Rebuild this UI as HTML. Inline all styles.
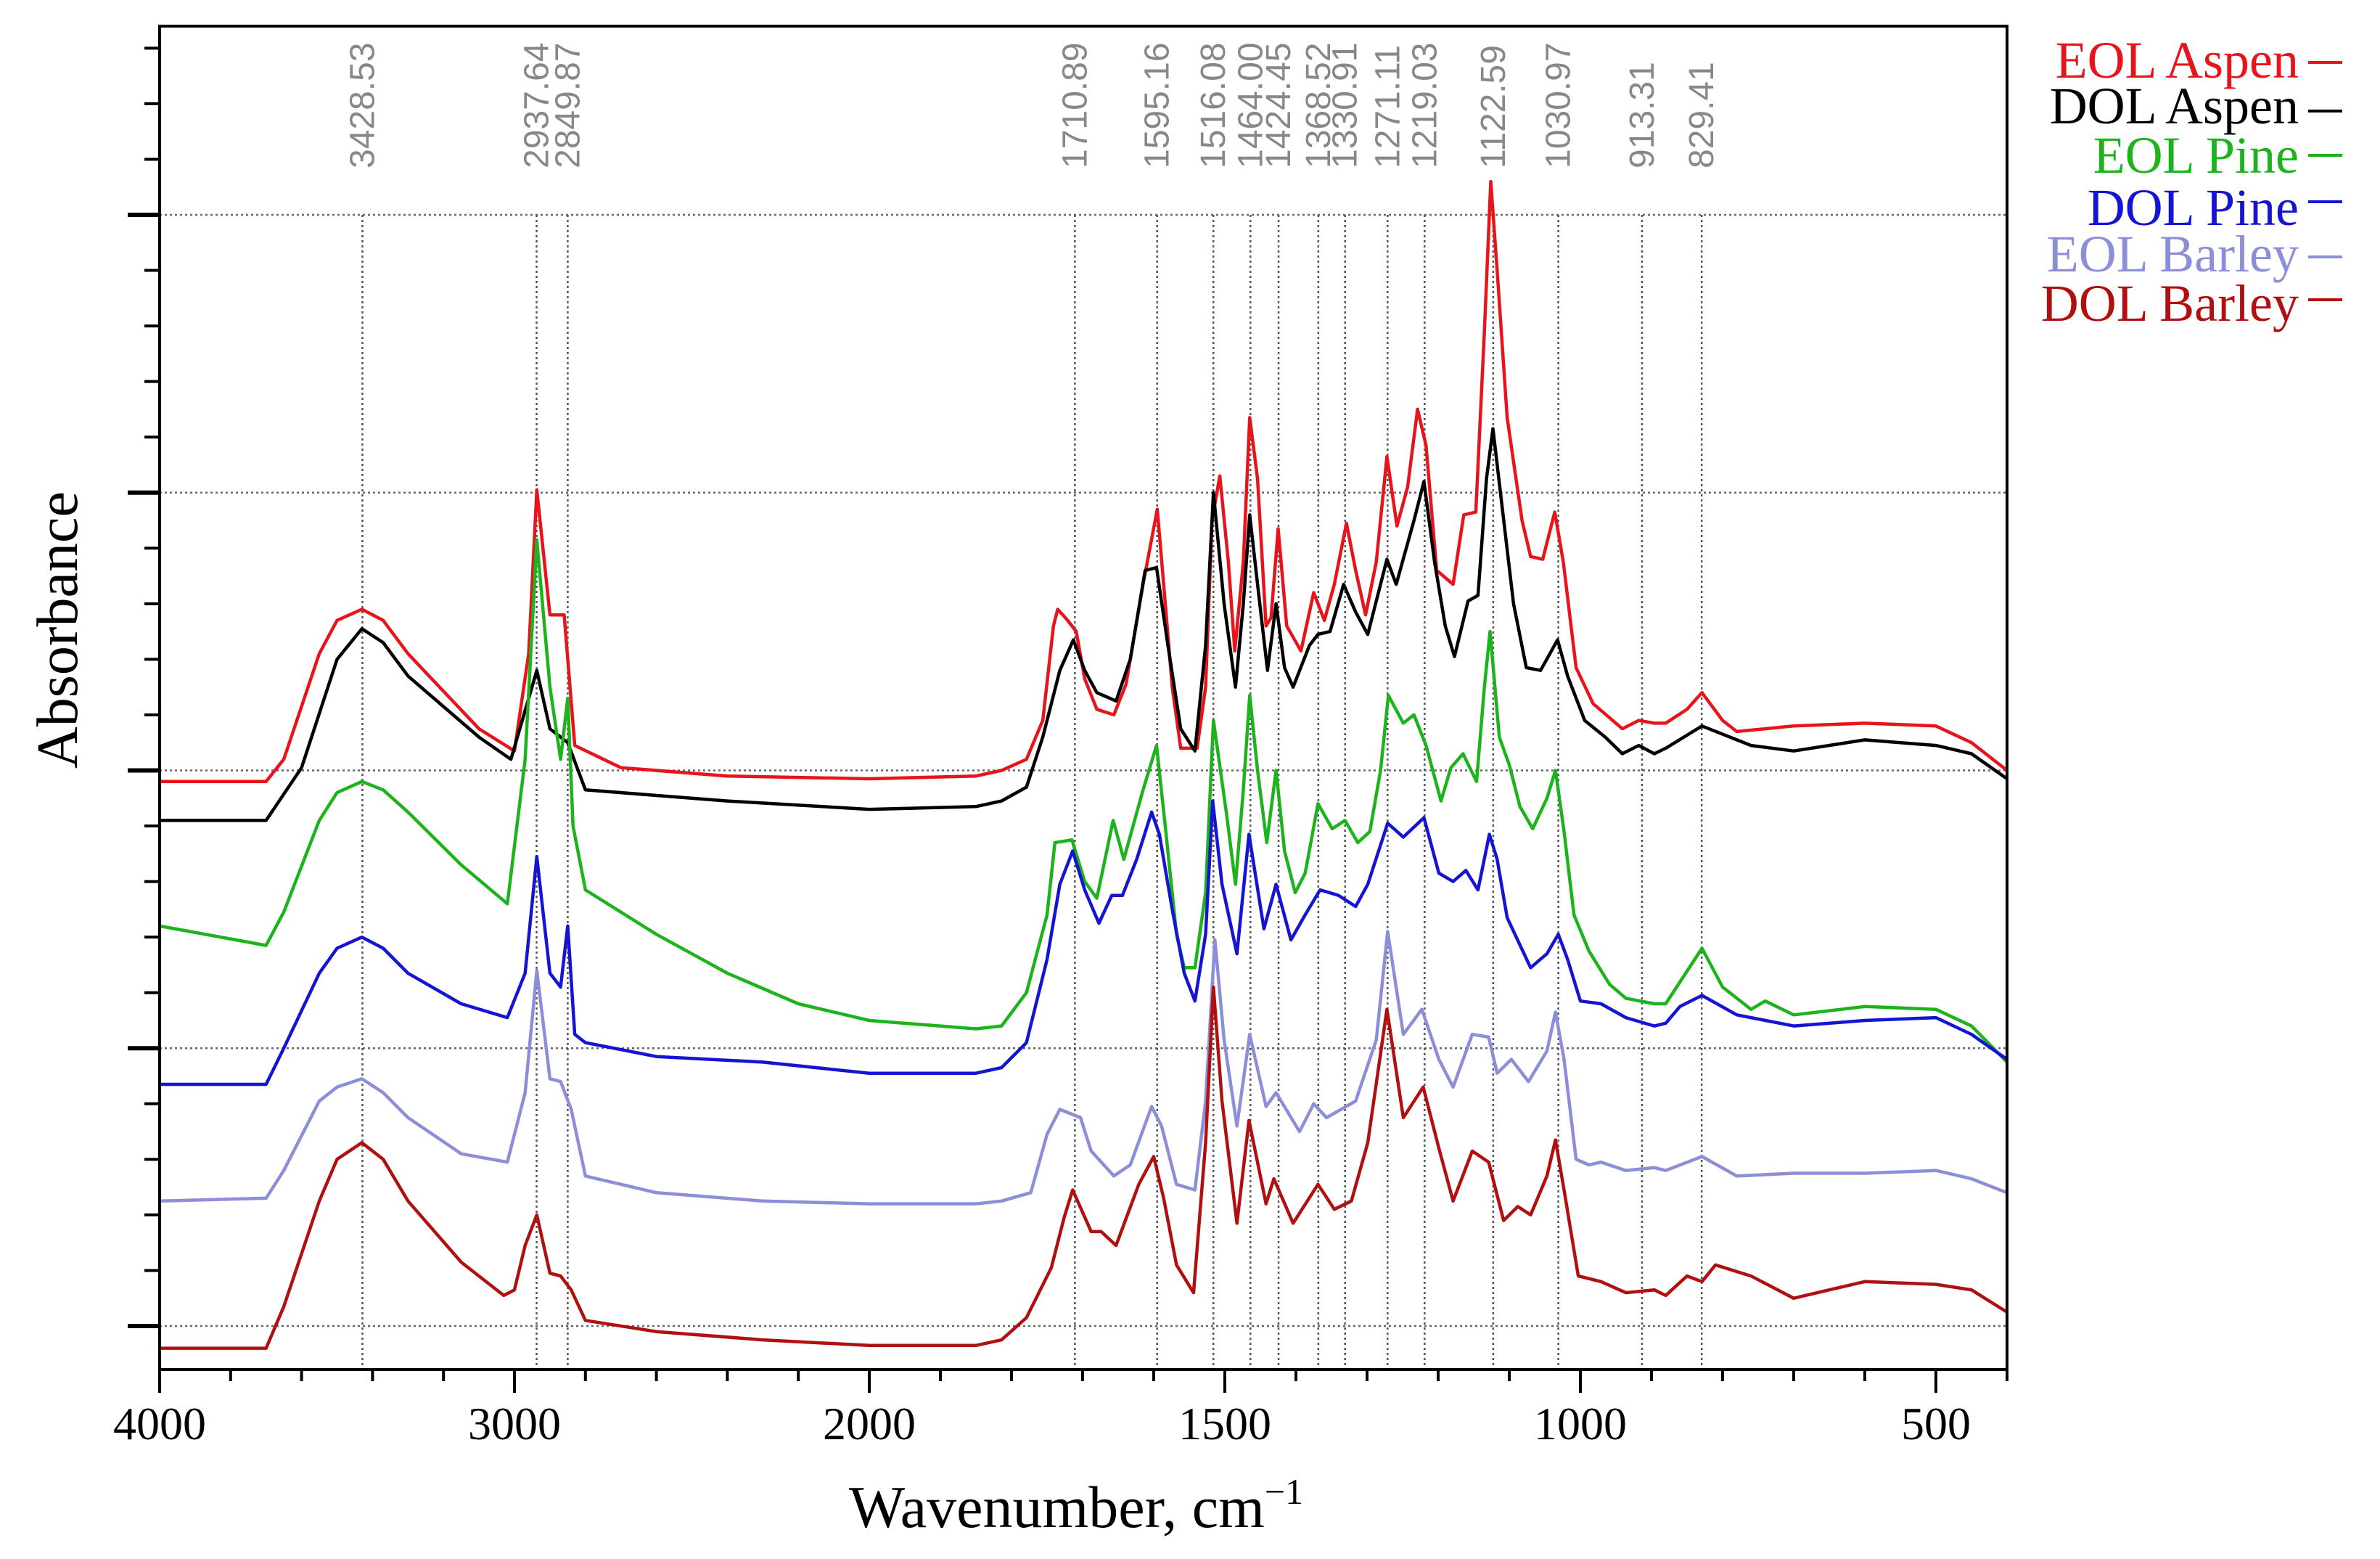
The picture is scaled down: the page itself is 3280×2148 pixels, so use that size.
<!DOCTYPE html>
<html><head><meta charset="utf-8"><style>
html,body{margin:0;padding:0;background:#fff;}
svg{display:block;}
</style></head><body>
<svg id="chart" width="3280" height="2148" viewBox="0 0 3280 2148" xmlns="http://www.w3.org/2000/svg">
<rect x="0" y="0" width="3280" height="2148" fill="#fff"/>
<g id="grid"></g>
<g id="peaks"></g>
<g id="series"></g>
<rect x="220" y="36" width="2546" height="1851" fill="none" stroke="#000" stroke-width="4"/>
<g id="axes"></g>
<text transform="translate(106,868) rotate(-90)" text-anchor="middle" font-family="Liberation Serif, serif" font-size="80">Absorbance</text>
<text x="1483" y="2104" text-anchor="middle" font-family="Liberation Serif, serif" font-size="82">Wavenumber, cm<tspan dy="-32" font-size="50">−1</tspan></text>
<g id="legend"></g>
</svg>
<script>
const categories = ["EOL Aspen","DOL Aspen","EOL Pine","DOL Pine","EOL Barley","DOL Barley"];
const colors = ["#e8141b","#000000","#1db31d","#1414d2","#8c8fd8","#b01010"];
const peakLabels = [3428.53,2937.64,2849.87,1710.89,1595.16,1516.08,1464.00,1424.45,1368.52,1330.91,1271.11,1219.03,1122.59,1030.97,913.31,829.41];
const xTicks = [4000,3000,2000,1500,1000,500];
const eolAspen = [[4000,1.96],[3700,1.96],[3650,2.04],[3550,2.42],[3500,2.54],[3430,2.58],[3370,2.54],[3300,2.42],[3100,2.15],[3000,2.07],[2960,2.42],[2937,3.01],[2900,2.56],[2860,2.56],[2830,2.09],[2700,2.01],[2400,1.98],[2000,1.97],[1850,1.98],[1814,2.0],[1779,2.04],[1756,2.18],[1741,2.52],[1735,2.58],[1721,2.54],[1709,2.5],[1697,2.33],[1680,2.22],[1656,2.2],[1639,2.31],[1615,2.67],[1595,2.94],[1586,2.67],[1574,2.3],[1562,2.08],[1539,2.08],[1527,2.3],[1518,2.9],[1507,3.06],[1495,2.75],[1486,2.43],[1474,2.75],[1465,3.27],[1454,3.05],[1442,2.52],[1435,2.55],[1425,2.87],[1413,2.52],[1393,2.43],[1375,2.64],[1360,2.54],[1346,2.67],[1329,2.89],[1316,2.72],[1302,2.56],[1287,2.75],[1272,3.13],[1258,2.88],[1243,3.02],[1229,3.3],[1217,3.17],[1202,2.72],[1179,2.67],[1164,2.92],[1147,2.93],[1135,3.58],[1126,4.12],[1117,3.8],[1103,3.27],[1082,2.9],[1070,2.77],[1053,2.76],[1036,2.93],[1024,2.75],[1006,2.37],[982,2.24],[941,2.15],[918,2.18],[896,2.17],[880,2.17],[850,2.22],[829,2.28],[800,2.18],[780,2.14],[700,2.16],[600,2.17],[500,2.16],[450,2.1],[400,2.0]];
const dolAspen = [[4000,1.82],[3700,1.82],[3600,2.01],[3500,2.4],[3430,2.51],[3370,2.46],[3300,2.34],[3100,2.12],[3010,2.04],[2937,2.36],[2900,2.15],[2850,2.1],[2800,1.93],[2400,1.89],[2000,1.86],[1850,1.87],[1814,1.89],[1779,1.94],[1756,2.12],[1732,2.36],[1713,2.47],[1697,2.36],[1680,2.28],[1653,2.25],[1633,2.4],[1612,2.72],[1596,2.73],[1580,2.45],[1562,2.15],[1542,2.07],[1527,2.45],[1516,3.0],[1501,2.6],[1485,2.3],[1474,2.6],[1465,2.92],[1454,2.67],[1440,2.36],[1428,2.6],[1416,2.37],[1404,2.3],[1381,2.45],[1369,2.49],[1352,2.5],[1333,2.67],[1316,2.57],[1299,2.49],[1284,2.64],[1272,2.76],[1259,2.67],[1234,2.9],[1220,3.04],[1205,2.75],[1190,2.52],[1177,2.41],[1158,2.61],[1144,2.63],[1132,3.05],[1123,3.23],[1111,2.97],[1094,2.6],[1076,2.37],[1056,2.36],[1032,2.47],[1018,2.34],[994,2.18],[965,2.12],[941,2.06],[918,2.09],[896,2.06],[880,2.08],[829,2.16],[760,2.09],[700,2.07],[600,2.11],[500,2.09],[450,2.06],[400,1.97]];
const eolPine = [[4000,1.44],[3700,1.37],[3650,1.49],[3550,1.82],[3500,1.92],[3430,1.96],[3370,1.93],[3300,1.85],[3150,1.66],[3020,1.52],[2970,2.04],[2937,2.83],[2900,2.3],[2870,2.04],[2850,2.26],[2835,1.8],[2800,1.57],[2600,1.41],[2400,1.27],[2200,1.16],[2000,1.1],[1850,1.07],[1814,1.08],[1779,1.2],[1750,1.48],[1739,1.74],[1715,1.75],[1697,1.6],[1680,1.54],[1657,1.82],[1642,1.68],[1615,1.93],[1596,2.09],[1583,1.78],[1568,1.41],[1557,1.29],[1542,1.29],[1527,1.56],[1516,2.18],[1498,1.85],[1485,1.59],[1474,1.93],[1465,2.27],[1454,2.0],[1441,1.74],[1428,2.0],[1416,1.71],[1401,1.56],[1387,1.63],[1369,1.88],[1349,1.79],[1331,1.82],[1313,1.74],[1296,1.78],[1281,2.0],[1270,2.27],[1249,2.17],[1234,2.2],[1217,2.09],[1196,1.89],[1182,2.01],[1165,2.06],[1146,1.96],[1135,2.3],[1127,2.5],[1114,2.12],[1100,2.02],[1085,1.87],[1067,1.79],[1047,1.9],[1035,2.0],[1023,1.78],[1009,1.48],[988,1.35],[959,1.23],[936,1.18],[896,1.16],[880,1.16],[829,1.36],[800,1.22],[760,1.14],[740,1.17],[700,1.12],[600,1.15],[500,1.14],[450,1.08],[400,0.95]];
const dolPine = [[4000,0.87],[3700,0.87],[3650,1.0],[3550,1.27],[3500,1.36],[3430,1.4],[3370,1.36],[3300,1.27],[3150,1.16],[3020,1.11],[2970,1.27],[2937,1.69],[2900,1.27],[2870,1.22],[2850,1.44],[2830,1.05],[2800,1.02],[2600,0.97],[2300,0.95],[2000,0.91],[1850,0.91],[1814,0.93],[1779,1.02],[1750,1.32],[1732,1.59],[1714,1.71],[1697,1.57],[1677,1.45],[1659,1.55],[1644,1.55],[1624,1.68],[1603,1.85],[1592,1.77],[1574,1.5],[1557,1.27],[1542,1.17],[1527,1.41],[1517,1.89],[1504,1.59],[1483,1.34],[1466,1.77],[1445,1.43],[1428,1.59],[1407,1.39],[1387,1.48],[1366,1.57],[1340,1.55],[1316,1.51],[1299,1.59],[1271,1.81],[1249,1.76],[1220,1.83],[1199,1.63],[1179,1.6],[1161,1.64],[1144,1.57],[1128,1.77],[1117,1.68],[1103,1.47],[1070,1.29],[1047,1.34],[1031,1.41],[1018,1.32],[1000,1.17],[971,1.16],[936,1.11],[896,1.08],[880,1.09],[860,1.15],[829,1.19],[780,1.12],[700,1.08],[600,1.1],[500,1.11],[450,1.05],[400,0.96]];
const eolBarley = [[4000,0.45],[3700,0.46],[3650,0.56],[3550,0.81],[3500,0.86],[3430,0.89],[3370,0.84],[3300,0.75],[3150,0.62],[3020,0.59],[2970,0.84],[2937,1.28],[2900,0.89],[2870,0.88],[2840,0.78],[2800,0.54],[2600,0.48],[2300,0.45],[2000,0.44],[1850,0.44],[1814,0.45],[1773,0.48],[1750,0.69],[1732,0.78],[1703,0.75],[1688,0.63],[1656,0.54],[1633,0.58],[1603,0.79],[1589,0.72],[1568,0.51],[1542,0.49],[1527,0.81],[1514,1.39],[1501,1.03],[1483,0.72],[1465,1.05],[1442,0.79],[1428,0.84],[1395,0.7],[1375,0.8],[1357,0.75],[1316,0.81],[1287,1.03],[1271,1.42],[1249,1.05],[1223,1.14],[1199,0.96],[1179,0.86],[1152,1.05],[1129,1.04],[1117,0.91],[1097,0.96],[1073,0.88],[1047,0.99],[1035,1.13],[1023,0.96],[1006,0.6],[988,0.58],[971,0.59],[936,0.56],[896,0.57],[880,0.56],[829,0.61],[780,0.54],[700,0.55],[600,0.55],[500,0.56],[450,0.53],[400,0.48]];
const dolBarley = [[4000,-0.08],[3700,-0.08],[3650,0.07],[3550,0.45],[3500,0.6],[3430,0.66],[3370,0.6],[3300,0.45],[3150,0.23],[3030,0.11],[3000,0.13],[2970,0.29],[2937,0.4],[2900,0.19],[2870,0.18],[2840,0.13],[2800,0.02],[2600,-0.02],[2300,-0.05],[2000,-0.07],[1850,-0.07],[1814,-0.05],[1779,0.03],[1744,0.21],[1726,0.39],[1714,0.49],[1688,0.34],[1674,0.34],[1653,0.29],[1621,0.51],[1600,0.61],[1586,0.46],[1568,0.22],[1544,0.12],[1527,0.66],[1516,1.22],[1504,0.81],[1483,0.37],[1466,0.74],[1442,0.44],[1431,0.53],[1404,0.37],[1369,0.51],[1346,0.42],[1322,0.45],[1299,0.66],[1272,1.14],[1249,0.75],[1221,0.86],[1199,0.64],[1179,0.45],[1152,0.63],[1129,0.59],[1108,0.38],[1088,0.43],[1070,0.4],[1047,0.54],[1035,0.67],[1023,0.49],[1003,0.18],[971,0.16],[936,0.12],[896,0.13],[880,0.11],[850,0.18],[829,0.16],[810,0.22],[760,0.18],[700,0.1],[650,0.13],[600,0.16],[500,0.15],[450,0.13],[400,0.05]];
const seriesData = [eolAspen, dolAspen, eolPine, dolPine, eolBarley, dolBarley];

const NS = "http://www.w3.org/2000/svg";
const PL = 220, PR = 2766, PT = 36, PB = 1887;
function xScale(wn){ return wn >= 2000 ? 220 + (4000 - wn) * 0.489 : 1198 + (2000 - wn) * 0.98; }
function yScale(v){ return 1827 - v * 382.75; }
function mk(tag, attrs, parent){ const e = document.createElementNS(NS, tag); for (const k in attrs) e.setAttribute(k, attrs[k]); parent.appendChild(e); return e; }

const grid = document.getElementById('grid');
for (let k = 0; k <= 4; k++) {
  const y = yScale(k);
  const gl = mk('line', {x1: PL, x2: PR, y1: y, y2: y, stroke: '#666', 'stroke-width': 2.5, 'stroke-dasharray': '3 4'}, grid);
  
  
}
const peaks = document.getElementById('peaks');
peakLabels.forEach(p => {
  const x = xScale(p);
  const l = mk('line', {x1: x, x2: x, y1: yScale(4), y2: PB, stroke: '#555', 'stroke-width': 2.5, 'stroke-dasharray': '3 4'}, peaks);
  
  
  const t = mk('text', {transform: `translate(${x + 16},232) rotate(-90)`, 'font-family': 'Liberation Sans, sans-serif', 'font-size': 48, fill: '#888'}, peaks);
  t.textContent = p.toFixed(2);
  
  
});
const sg = document.getElementById('series');
seriesData.forEach((d, i) => {
  const pts = d.map(p => xScale(p[0]).toFixed(1) + ',' + yScale(p[1]).toFixed(1)).join(' ');
  const pl = mk('polyline', {points: pts, fill: 'none', stroke: colors[i], 'stroke-width': 4.5, 'stroke-linejoin': 'round'}, sg);
  
  
});
const axes = document.getElementById('axes');
for (let k = -1; k <= 23; k++) {
  const y = yScale(k / 5);
  if (y < PT + 5 || y > PB - 5) continue;
  const major = k % 5 === 0;
  const tk = mk('line', {x1: major ? 176 : 199, x2: PL, y1: y, y2: y, stroke: '#000', 'stroke-width': major ? 6 : 4}, axes);
  
  
}
for (let wn = 4000; wn >= 400; wn -= (wn > 2000 ? 200 : 100)) {
  const x = xScale(wn);
  const major = xTicks.includes(wn);
  const tk = mk('line', {x1: x, x2: x, y1: PB, y2: PB + (major ? 32 : 16), stroke: '#000', 'stroke-width': 4}, axes);
  
  
}
xTicks.forEach(wn => {
  const t = mk('text', {x: xScale(wn), y: 1983, 'text-anchor': 'middle', 'font-family': 'Liberation Serif, serif', 'font-size': 64}, axes);
  t.textContent = wn;
  
  
});
const lg = document.getElementById('legend');
const legBase = [107, 170, 238, 310, 374, 442];
const legLine = [86, 153, 214, 278, 354, 413];
categories.forEach((c, i) => {
  const t = mk('text', {x: 3168, y: legBase[i], 'text-anchor': 'end', 'font-family': 'Liberation Serif, serif', 'font-size': 72, fill: colors[i]}, lg);
  t.textContent = c;
  
  
  const l = mk('line', {x1: 3181, x2: 3228, y1: legLine[i], y2: legLine[i], stroke: colors[i], 'stroke-width': 4}, lg);
  
  
});
</script>
</body></html>
